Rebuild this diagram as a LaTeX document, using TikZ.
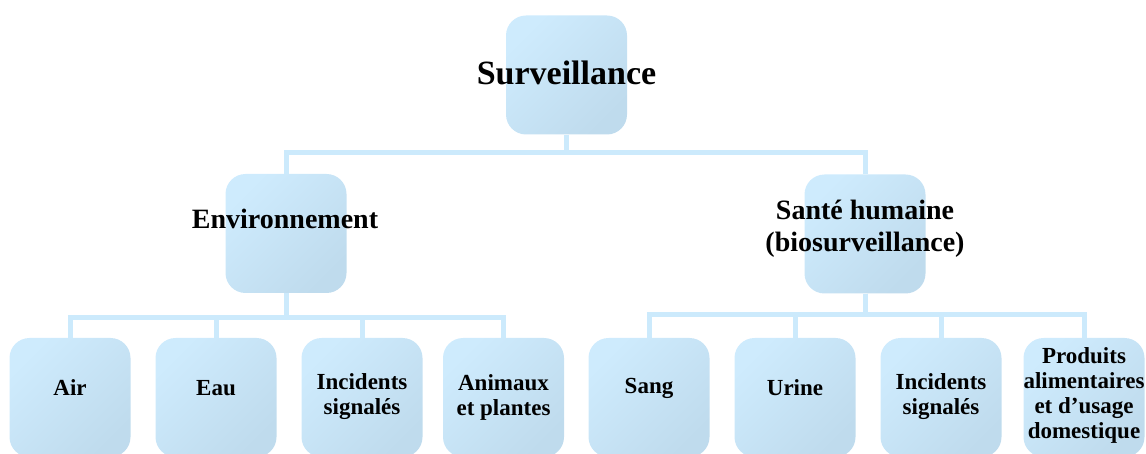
\documentclass[tikz,border=0pt]{standalone}
\usepackage{fontspec}
\setmainfont{Liberation Serif}
\definecolor{boxlight}{RGB}{206,235,253}
\definecolor{boxdark}{RGB}{191,219,237}
\definecolor{linkblue}{RGB}{204,234,252}

\begin{document}
\begin{tikzpicture}[
  x=1pt, y=-1pt,
  box/.style={
    rounded corners=20pt, inner sep=0pt,
    minimum width=121pt, minimum height=119pt,
    top color=boxlight, bottom color=boxdark, shading angle=45
  },
  link/.style={draw=linkblue, line width=5pt},
  lbl/.style={font=\bfseries, align=center, inner sep=0pt}
]
  \useasboundingbox (0,0) rectangle (1146,454);
  % top level
  \node[box] (surv) at (566.5,75) {};
  \node[box] (env) at (286,233.5) {};
  \node[box] (sante) at (865,234) {};
  \draw[link] (surv.south) -- ++(0,18) -| (env.north);
  \draw[link] (surv.south) -- ++(0,18) -| (sante.north);
  % bottom level
  \foreach \nm/\x/\ty/\txt in {air/70/388/Air, eau/216/388/Eau,
      incenv/362/397/{Incidents\\signalés}, anim/503.5/397/{Animaux\\et plantes}} {
    \node[box] (\nm) at (\x,397.5) {};
    \draw[link] (env.south) -- ++(0,24) -| (\nm.north);
    \node[lbl, font=\bfseries\fontsize{23}{25}\selectfont] (\nm-t) at (\x,\ty) {\txt};
  }
  \foreach \nm/\x/\ty/\txt in {sang/649/388/Sang, urine/795/388/Urine,
      inchum/941/397/{Incidents\\signalés},
      prod/1084/395.5/{Produits\\alimentaires\\et d’usage\\domestique}} {
    \node[box] (\nm) at (\x,397.5) {};
    \draw[link] (sante.south) -- ++(0,21) -| (\nm.north);
    \node[lbl, font=\bfseries\fontsize{23}{25}\selectfont] (\nm-t) at (\x,\ty) {\txt};
  }
  % labels
  \node[lbl, font=\bfseries\fontsize{34}{38}\selectfont] (surv-t) at (566.5,73) {Surveillance};
  \node[lbl, font=\bfseries\fontsize{28}{32}\selectfont] (env-t) at (285,219) {Environnement};
  \node[lbl, font=\bfseries\fontsize{28}{32}\selectfont] (sante-t) at (865,229) {Santé humaine\\(biosurveillance)};
\end{tikzpicture}
\end{document}
